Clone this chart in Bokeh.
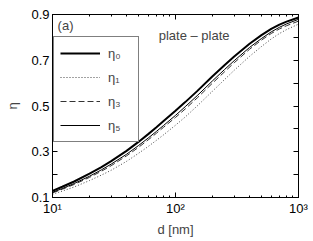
from bokeh.plotting import figure
from bokeh.models import (Range1d, FixedTicker, LinearAxis, LogAxis, Legend,
                          LegendItem, Label, CustomJSTickFormatter)
from bokeh.embed import file_html
from bokeh.resources import INLINE

# data
d = [10, 12, 15, 20, 25, 30, 40, 50, 60, 70, 80, 100, 120, 150, 200, 250, 300, 400, 500, 600, 700, 800, 1000]
eta0 = [.129, .147, .170, .204, .233, .259, .304, .343, .377, .407, .434, .479, .517, .565, .630, .678, .716, .772, .810, .837, .856, .869, .887]
eta5 = [.123, .139, .161, .193, .221, .246, .289, .327, .360, .389, .415, .459, .497, .545, .610, .659, .698, .756, .795, .824, .844, .859, .879]
eta3 = [.120, .136, .157, .188, .215, .239, .282, .319, .352, .381, .407, .450, .487, .535, .600, .649, .689, .748, .788, .817, .837, .851, .871]
eta1 = [.114, .128, .146, .174, .198, .219, .258, .293, .323, .350, .374, .416, .452, .500, .565, .615, .656, .717, .760, .793, .817, .834, .858]
x_ticks = [10, 100, 1000]
x_minor = [20, 30, 40, 50, 60, 70, 80, 90, 200, 300, 400, 500, 600, 700, 800, 900]
x_tick_labels = ["10¹", "10²", "10³"]
y_ticks = [0.1, 0.3, 0.5, 0.7, 0.9]
y_minor = [0.2, 0.4, 0.6, 0.8]

FONT = "Liberation Sans"

p = figure(width=313, height=241, x_axis_type="log", output_backend="svg",
           toolbar_location=None, x_range=Range1d(10, 1000), y_range=Range1d(0.1, 0.9),
           min_border_left=52, min_border_right=15, min_border_top=14, min_border_bottom=44)
p.grid.visible = False
p.outline_line_color = "black"
p.outline_line_width = 1

r0 = p.line(d, eta0, line_color="black", line_width=2)
r1 = p.line(d, eta1, line_color="#444444", line_width=1, line_dash="1 2")
r3 = p.line(d, eta3, line_color="#333333", line_width=1, line_dash="6 3")
r5 = p.line(d, eta5, line_color="black", line_width=1)

xa = p.xaxis[0]
xa.ticker = FixedTicker(ticks=x_ticks, minor_ticks=x_minor)
xa.major_label_overrides = {v: s for v, s in zip(x_ticks, x_tick_labels)}
xa.axis_label = "d [nm]"
ya = p.yaxis[0]
ya.ticker = FixedTicker(ticks=y_ticks, minor_ticks=y_minor)
ya.axis_label = "η"

for ax in (xa, ya):
    ax.major_tick_in = 5
    ax.major_tick_out = 0
    ax.minor_tick_out = 0
    ax.major_label_text_font = FONT
    ax.major_label_text_font_size = "13px"
    ax.axis_label_text_font = FONT
    ax.axis_label_text_font_size = "13px"
    ax.axis_label_text_font_style = "normal"
    ax.major_label_text_color = "black"
    ax.axis_line_color = "black"
    ax.major_label_standoff = 3
xa.minor_tick_in = 2
ya.minor_tick_in = 5
xa.axis_label_standoff = 3
ya.axis_label_standoff = 8

blank = CustomJSTickFormatter(code="return ''")
top = LogAxis(ticker=FixedTicker(ticks=x_ticks, minor_ticks=x_minor), formatter=blank,
              major_tick_in=5, major_tick_out=0, minor_tick_in=2, minor_tick_out=0,
              major_label_standoff=0)
right = LinearAxis(ticker=FixedTicker(ticks=y_ticks, minor_ticks=y_minor), formatter=blank,
                   major_tick_in=5, major_tick_out=0, minor_tick_in=5, minor_tick_out=0,
                   major_label_standoff=0)
p.add_layout(top, "above")
p.add_layout(right, "right")

legend = Legend(items=[LegendItem(label="η₀", renderers=[r0]),
                       LegendItem(label="η₁", renderers=[r1]),
                       LegendItem(label="η₃", renderers=[r3]),
                       LegendItem(label="η₅", renderers=[r5])],
                location=(1, 55), glyph_width=40, glyph_height=20, label_height=20,
                label_width=24, spacing=4, padding=6, margin=0, label_standoff=8,
                label_text_font=FONT, label_text_font_size="13px",
                border_line_color="black", border_line_width=1,
                background_fill_alpha=1.0)
p.add_layout(legend, "center")

p.add_layout(Label(x=11, y=0.851, text="(a)", text_baseline="middle",
                   text_font=FONT, text_font_size="13px"))
p.add_layout(Label(x=73, y=0.807, text="plate – plate", text_baseline="middle",
                   text_font=FONT, text_font_size="13px"))

open("out.html", "w").write(file_html(p, INLINE))
